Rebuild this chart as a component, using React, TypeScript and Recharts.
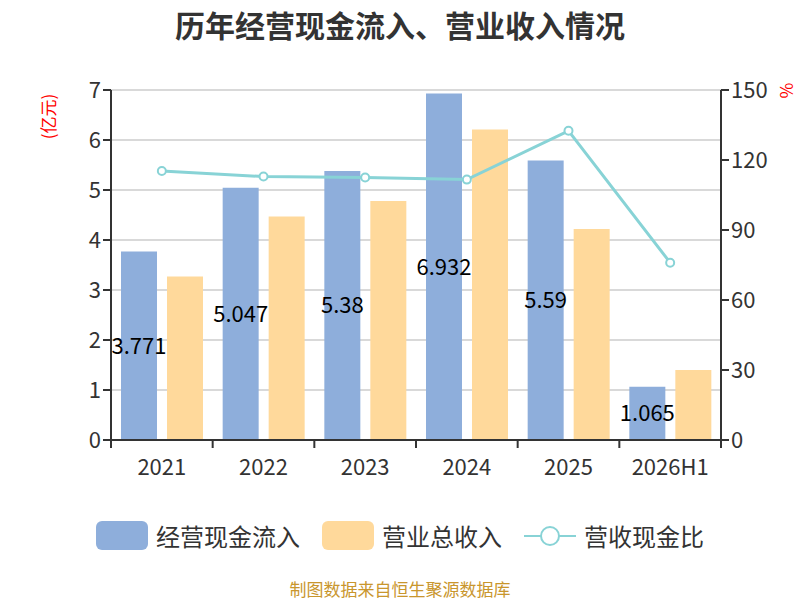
import React from 'react';
import { ComposedChart, Bar, Line, XAxis, YAxis, CartesianGrid, LabelList } from 'recharts';

const years = ['2021', '2022', '2023', '2024', '2025', '2026H1'];
const cashInflow = [3.771, 5.047, 5.38, 6.932, 5.59, 1.065];
const revenue = [3.27, 4.47, 4.78, 6.21, 4.22, 1.4];
const cashRatio = [115.3, 112.9, 112.5, 111.6, 132.5, 76.0];
const leftTicks = [0, 1, 2, 3, 4, 5, 6, 7];
const rightTicks = [0, 30, 60, 90, 120, 150];

const FONT = '"Noto Sans CJK SC", "Noto Sans", sans-serif';
const BLUE = '#8EAEDB';
const ORANGE = '#FFD99B';
const TEAL = '#88D3D6';
const AXIS = '#333333';

const chartData = years.map((year, i) => ({
    year,
    cash: cashInflow[i],
    revenue: revenue[i],
    ratio: cashRatio[i],
}));

// category ticks sit on the band edges, labels in the middle
function YearTick(props: any) {
    const { x, y, payload, index, visibleTicksCount } = props;
    const half = payload.offset || 0;
    return (
        <g>
            <line x1={x - half} y1={y - 8} x2={x - half} y2={y} stroke={AXIS} strokeWidth={2} />
            {index === visibleTicksCount - 1 && (
                <line x1={x + half} y1={y - 8} x2={x + half} y2={y} stroke={AXIS} strokeWidth={2} />
            )}
            <text x={x} y={y + 27} textAnchor="middle" fontSize={22} fill={AXIS} fontFamily={FONT}>
                {payload.value}
            </text>
        </g>
    );
}

function LegendItem({ color, label, line, last }: { color: string; label: string; line?: boolean; last?: boolean }) {
    return (
        <div style={{ display: 'flex', alignItems: 'center', marginRight: last ? 0 : 22 }}>
            {line ? (
                <svg width={52} height={30}>
                    <line x1={0} y1={15} x2={52} y2={15} stroke={color} strokeWidth={2} />
                    <circle cx={26} cy={15} r={9} fill="#fff" stroke={color} strokeWidth={2} />
                </svg>
            ) : (
                <div style={{ width: 52, height: 29, borderRadius: 6, background: color }} />
            )}
            <span style={{ marginLeft: 8, fontSize: 24, color: AXIS }}>{label}</span>
        </div>
    );
}

export default function App() {
    return (
        <div style={{ position: 'absolute', left: 0, top: 0, width: 800, height: 600, background: '#fff', fontFamily: FONT }}>
            <div style={{ position: 'absolute', top: 2, width: 800, textAlign: 'center', fontSize: 30, fontWeight: 'bold', color: AXIS }}>
                历年经营现金流入、营业收入情况
            </div>
            <div style={{ position: 'absolute', left: 20, top: 104, width: 54, textAlign: 'center', fontSize: 17, color: '#FF0000', transform: 'rotate(-90deg)' }}>
                (亿元)
            </div>
            <div style={{ position: 'absolute', left: 780, top: 78, fontSize: 17, color: '#FF0000', transform: 'rotate(90deg)' }}>
                %
            </div>

            <ComposedChart
                width={800}
                height={600}
                data={chartData}
                margin={{ top: 90, right: 29, left: 61, bottom: 130 }}
                barCategoryGap={10}
                barGap={10}
            >
                <CartesianGrid horizontal vertical={false} stroke="#cccccc" strokeWidth={1.5} yAxisId="left" />
                <XAxis
                    dataKey="year"
                    height={30}
                    tickLine={false}
                    axisLine={{ stroke: AXIS, strokeWidth: 2 }}
                    tick={<YearTick />}
                    interval={0}
                />
                <YAxis
                    yAxisId="left"
                    width={50}
                    domain={[0, 7]}
                    ticks={leftTicks}
                    interval={0}
                    axisLine={{ stroke: AXIS, strokeWidth: 2 }}
                    tickLine={{ stroke: AXIS, strokeWidth: 2 }}
                    tickSize={8}
                    tick={{ fontSize: 22, fill: AXIS, fontFamily: FONT }}
                />
                <YAxis
                    yAxisId="right"
                    orientation="right"
                    width={50}
                    domain={[0, 150]}
                    ticks={rightTicks}
                    interval={0}
                    axisLine={{ stroke: AXIS, strokeWidth: 2 }}
                    tickLine={{ stroke: AXIS, strokeWidth: 2 }}
                    tickSize={8}
                    tick={{ fontSize: 22, fill: AXIS, fontFamily: FONT }}
                />
                <Bar yAxisId="left" dataKey="cash" fill={BLUE} isAnimationActive={false}>
                    <LabelList dataKey="cash" position="center" fill="#000" fontSize={22} fontFamily={FONT} />
                </Bar>
                <Bar yAxisId="left" dataKey="revenue" fill={ORANGE} isAnimationActive={false} />
                <Line
                    yAxisId="right"
                    type="linear"
                    dataKey="ratio"
                    stroke={TEAL}
                    strokeWidth={3}
                    dot={{ r: 4, fill: '#fff', stroke: TEAL, strokeWidth: 2 }}
                    isAnimationActive={false}
                />
            </ComposedChart>

            <div style={{ position: 'absolute', top: 518, left: 0, width: 800, display: 'flex', justifyContent: 'center' }}>
                <LegendItem color={BLUE} label="经营现金流入" />
                <LegendItem color={ORANGE} label="营业总收入" />
                <LegendItem color={TEAL} label="营收现金比" line last />
            </div>
            <div style={{ position: 'absolute', top: 579, width: 800, textAlign: 'center', fontSize: 17, lineHeight: '20px', color: '#C9962D' }}>
                制图数据来自恒生聚源数据库
            </div>
        </div>
    );
}
